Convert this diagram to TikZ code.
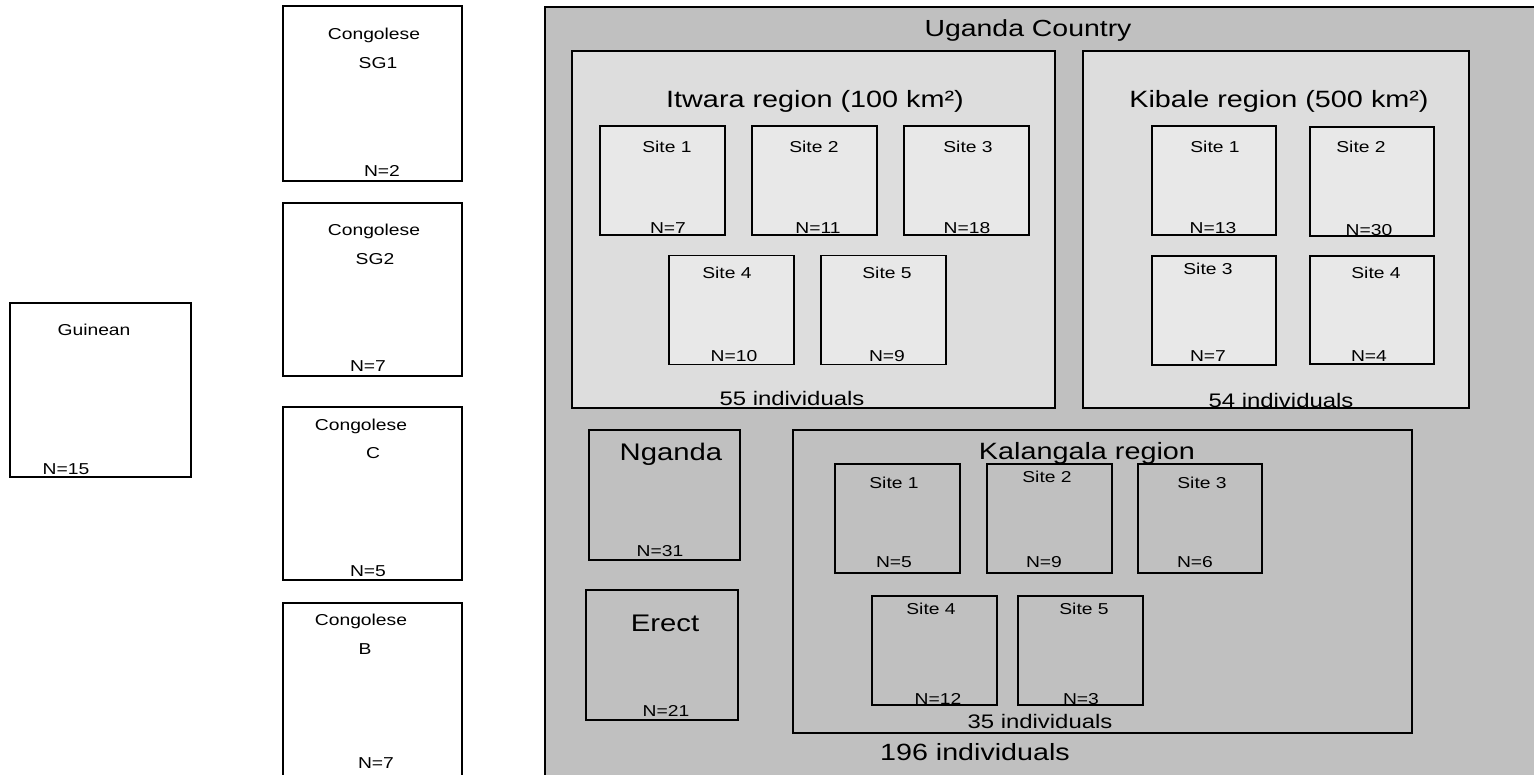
\documentclass[tikz,border=0pt]{standalone}
\usepackage{fontspec}
\setmainfont[FakeStretch=1.22]{Liberation Sans}
\definecolor{countrybg}{HTML}{C0C0C0}
\definecolor{regionbg}{HTML}{DDDDDD}
\definecolor{sitebg}{HTML}{E8E8E8}
\tikzset{
  box/.style={draw=black,line width=1.8pt,inner sep=0pt},
  popbox/.style={box,fill=white},
  regionbox/.style={box,fill=regionbg},
  sitebox/.style={box,fill=sitebg,minimum width=125pt,minimum height=109pt},
  greybox/.style={box,fill=countrybg},
  sz/.style 2 args={minimum width=#1pt,minimum height=#2pt},
  lbl/.style={anchor=base,inner sep=0pt,font=\fontsize{15.8}{18}\selectfont},
  midlbl/.style={lbl,font=\fontsize{19.6}{23}\selectfont},
  biglbl/.style={lbl,font=\fontsize{23.6}{27}\selectfont}
}

\begin{document}
\begin{tikzpicture}[x=1pt,y=-1pt]
  \useasboundingbox (0,0) rectangle (1534,775);
  % populations outside Uganda
  \node[popbox,sz={181}{174}] (guin) at (100.5,390) {};
  \node[lbl] (guinT) at (94,336) {Guinean};
  \node[lbl] (guinN) at (66,474) {N=15};
  \node[popbox,sz={179}{175}] (sg1) at (372.5,93.5) {};
  \node[lbl] (sg1T) at (374,40) {Congolese};
  \node[lbl] (sg1S) at (378,69) {SG1};
  \node[lbl] (sg1N) at (382,177) {N=2};
  \node[popbox,sz={179}{173}] (sg2) at (372.5,289.5) {};
  \node[lbl] (sg2T) at (374,236) {Congolese};
  \node[lbl] (sg2S) at (375,265) {SG2};
  \node[lbl] (sg2N) at (368,372) {N=7};
  \node[popbox,sz={179}{173}] (cgC) at (372.5,493.5) {};
  \node[lbl] (cgCT) at (361,430) {Congolese};
  \node[lbl] (cgCS) at (373,458) {C};
  \node[lbl] (cgCN) at (368,576) {N=5};
  \node[popbox,sz={179}{187}] (cgB) at (372.5,696.5) {};
  \node[lbl] (cgBT) at (361,625) {Congolese};
  \node[lbl] (cgBS) at (365,654) {B};
  \node[lbl] (cgBN) at (376,768) {N=7};
  % Uganda
  \node[greybox,sz={1000}{783}] (uga) at (1045,398.5) {};
  \node[biglbl,font=\fontsize{23.3}{27}\selectfont] (ugaT) at (1028,37) {Uganda Country};
  \node[biglbl,font=\fontsize{23.5}{27}\selectfont] (ugaN) at (975,760) {196 individuals};
  % Itwara
  \node[regionbox,sz={483}{357}] (itw) at (813.5,229.5) {};
  \node[biglbl] (itwT) at (815,108) {Itwara region (100 km²)};
  \node[midlbl] (itwN) at (792,406) {55 individuals};
  \node[sitebox] (itw1) at (662.5,180.5) {};
  \node[sitebox] (itw2) at (814.5,180.5) {};
  \node[sitebox] (itw3) at (966.5,180.5) {};
  \node[sitebox] (itw4) at (731.5,310) {};
  \node[sitebox] (itw5) at (883.5,310) {};
  \node[lbl] at (667,153) {Site 1};
  \node[lbl] at (668,234) {N=7};
  \node[lbl] at (814,153) {Site 2};
  \node[lbl] at (818,234) {N=11};
  \node[lbl] at (968,153) {Site 3};
  \node[lbl] at (967,234) {N=18};
  \node[lbl] at (727,279) {Site 4};
  \node[lbl] at (734,362) {N=10};
  \node[lbl] at (887,279) {Site 5};
  \node[lbl] at (887,362) {N=9};
  % Kibale
  \node[regionbox,sz={386}{357}] (kib) at (1276,229.5) {};
  \node[biglbl] (kibT) at (1279,108) {Kibale region (500 km²)};
  \node[midlbl] (kibN) at (1281,407) {54 individuals};
  \node[sitebox,sz={124}{109}] (kib1) at (1214,180.5) {};
  \node[sitebox,sz={124}{109}] (kib2) at (1372,181.5) {};
  \node[sitebox,sz={124}{109}] (kib3) at (1214,310.5) {};
  \node[sitebox,sz={124}{108}] (kib4) at (1372,310) {};
  \node[lbl] at (1215,153) {Site 1};
  \node[lbl] at (1213,234) {N=13};
  \node[lbl] at (1361,153) {Site 2};
  \node[lbl] at (1369,236) {N=30};
  \node[lbl] at (1208,275) {Site 3};
  \node[lbl] at (1208,362) {N=7};
  \node[lbl] at (1376,279) {Site 4};
  \node[lbl] at (1369,362) {N=4};
  % Nganda and Erect
  \node[greybox,sz={151}{130}] (ngd) at (664.5,495) {};
  \node[biglbl,font=\fontsize{24}{28}\selectfont] (ngdT) at (671,460) {Nganda};
  \node[lbl] (ngdN) at (660,556) {N=31};
  \node[greybox,sz={152}{130}] (erc) at (662,655) {};
  \node[biglbl,font=\fontsize{24}{28}\selectfont] (ercT) at (665,631) {Erect};
  \node[lbl] (ercN) at (666,716) {N=21};
  % Kalangala
  \node[greybox,sz={619}{303}] (kal) at (1102.5,581.5) {};
  \node[biglbl] (kalT) at (1087,459) {Kalangala region};
  \node[midlbl] (kalN) at (1040,728) {35 individuals};
  \node[sitebox,fill=countrybg] (kal1) at (897.5,518.5) {};
  \node[sitebox,fill=countrybg] (kal2) at (1049.5,518.5) {};
  \node[sitebox,fill=countrybg,sz={124}{109}] (kal3) at (1200,518.5) {};
  \node[sitebox,fill=countrybg] (kal4) at (934.5,650.5) {};
  \node[sitebox,fill=countrybg] (kal5) at (1080.5,650.5) {};
  \node[lbl] at (894,488) {Site 1};
  \node[lbl] at (894,567) {N=5};
  \node[lbl] at (1047,482) {Site 2};
  \node[lbl] at (1044,567) {N=9};
  \node[lbl] at (1202,488) {Site 3};
  \node[lbl] at (1195,567) {N=6};
  \node[lbl] at (931,614) {Site 4};
  \node[lbl] at (938,704) {N=12};
  \node[lbl] at (1084,614) {Site 5};
  \node[lbl] at (1081,704) {N=3};
\end{tikzpicture}
\end{document}
